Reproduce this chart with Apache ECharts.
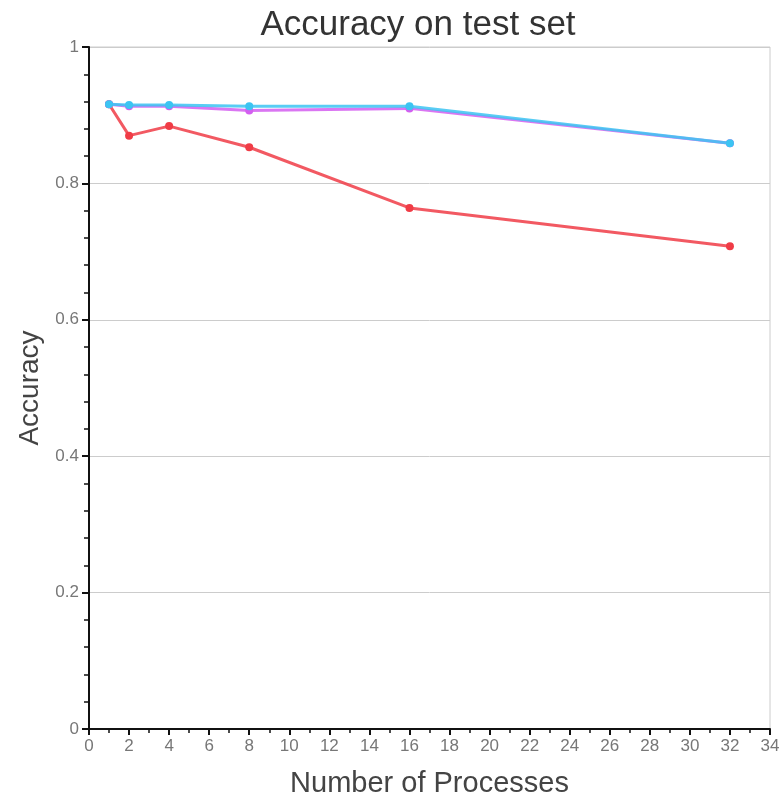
<!DOCTYPE html>
<html><head><meta charset="utf-8">
<script src="https://cdn.jsdelivr.net/npm/echarts@6/dist/echarts.min.js"></script>
<style>html,body{margin:0;padding:0;background:#fff}#c{width:780px;height:797px}</style>
</head><body><div id="c"></div>
<script>
const processes = [1, 2, 4, 8, 16, 32];
const redAcc = [0.916, 0.870, 0.884, 0.853, 0.764, 0.708];
const magentaAcc = [0.916, 0.913, 0.913, 0.907, 0.910, 0.859];
const cyanAcc = [0.916, 0.915, 0.915, 0.913, 0.913, 0.859];
const xTicks = [0, 2, 4, 6, 8, 10, 12, 14, 16, 18, 20, 22, 24, 26, 28, 30, 32, 34];
const yTicks = [0, 0.2, 0.4, 0.6, 0.8, 1];

const pair = a => processes.map((x, i) => [x, a[i]]);
const font = 'Liberation Sans';
const chart = echarts.init(document.getElementById('c'));
function ser(name, data, color, z) {
  return {name, type: 'line', data: pair(data), z,
    lineStyle: {color, width: 3, opacity: 0.85},
    itemStyle: {color},
    symbol: 'circle', symbolSize: 8, animation: false};
}
chart.setOption({
  animation: false,
  title: {text: 'Accuracy on test set', left: 413, top: 3, textAlign: 'center',
    textStyle: {fontFamily: font, fontSize: 35, fontWeight: 'normal', color: '#333'}},
  grid: {left: 89, right: 10, top: 47, bottom: 68, show: true, borderColor: '#ccc', borderWidth: 1,
    containLabel: false, outerBoundsMode: 'none'},
  xAxis: {type: 'value', min: 0, max: 34, interval: 2,
    name: 'Number of Processes', nameLocation: 'middle', nameGap: 40,
    nameTextStyle: {fontFamily: font, fontSize: 29, color: '#444'},
    axisLine: {onZero: false, lineStyle: {color: '#111', width: 2}},
    axisTick: {show: true, length: 6, lineStyle: {color: '#111', width: 2}},
    minorTick: {show: true, splitNumber: 2, length: 4, lineStyle: {color: '#111', width: 1.5}},
    axisLabel: {fontFamily: font, fontSize: 17, color: '#777', margin: 9,
      formatter: v => xTicks.includes(v) ? String(v) : ''},
    splitLine: {show: false}},
  yAxis: {type: 'value', min: 0, max: 1, interval: 0.2,
    name: 'Accuracy', nameLocation: 'middle', nameGap: 45,
    nameTextStyle: {fontFamily: font, fontSize: 28, color: '#444'},
    axisLine: {onZero: false, lineStyle: {color: '#111', width: 2}},
    axisTick: {show: true, length: 7, lineStyle: {color: '#111', width: 2}},
    minorTick: {show: true, splitNumber: 5, length: 5, lineStyle: {color: '#111', width: 1.5}},
    axisLabel: {fontFamily: font, fontSize: 17, color: '#777', margin: 10,
      formatter: v => yTicks.some(t => Math.abs(t - v) < 1e-9) ? String(+v.toFixed(1)) : ''},
    splitLine: {show: true, lineStyle: {color: '#ccc', width: 1}}},
  series: [
    ser('red', redAcc, '#f03c46', 3),
    ser('magenta', magentaAcc, '#d45ef0', 4),
    ser('cyan', cyanAcc, '#3cc4f2', 5)
  ]
});
</script></body></html>
